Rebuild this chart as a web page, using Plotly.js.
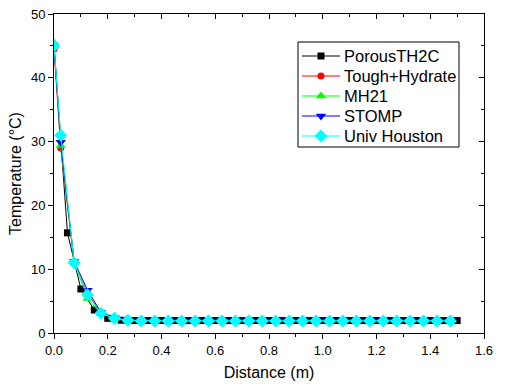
<!DOCTYPE html>
<html>
<head>
<meta charset="utf-8">
<script src="https://cdn.plot.ly/plotly-3.0.1.min.js"></script>
<style>html,body{margin:0;padding:0;background:#fff;}#chart{width:506px;height:392px;}</style>
</head>
<body>
<div id="chart"></div>
<script>
// Data
var xPorous = [0, 0.05, 0.1, 0.15, 0.2, 0.25, 0.3, 0.35, 0.4, 0.45, 0.5, 0.55, 0.6, 0.65, 0.7, 0.75, 0.8, 0.85, 0.9, 0.95, 1.0, 1.05, 1.1, 1.15, 1.2, 1.25, 1.3, 1.35, 1.4, 1.45, 1.5];
var yPorous = [45, 15.7, 6.9, 3.6, 2.3, 2.0, 1.95, 1.95, 1.95, 1.95, 1.95, 1.95, 1.95, 1.95, 1.95, 1.95, 1.95, 1.95, 1.95, 1.95, 1.95, 1.95, 1.95, 1.95, 1.95, 1.95, 1.95, 1.95, 1.95, 1.95, 1.95];
var xOther = [0, 0.025, 0.075, 0.125, 0.175, 0.225, 0.275, 0.325, 0.375, 0.425, 0.475, 0.525, 0.575, 0.625, 0.675, 0.725, 0.775, 0.825, 0.875, 0.925, 0.975, 1.025, 1.075, 1.125, 1.175, 1.225, 1.275, 1.325, 1.375, 1.425, 1.475];
var yTough = [44.5, 29.0, 11.0, 6.2, 3.1, 2.3, 2.0, 2.0, 2.0, 2.0, 2.0, 2.0, 2.0, 2.0, 2.0, 2.0, 2.0, 2.0, 2.0, 2.0, 2.0, 2.0, 2.0, 2.0, 2.0, 2.0, 2.0, 2.0, 2.0, 2.0, 2.0];
var yMH21 = [45.5, 29.4, 11.0, 5.4, 3.0, 2.3, 2.0, 2.0, 2.0, 2.0, 2.0, 2.0, 2.0, 2.0, 2.0, 2.0, 2.0, 2.0, 2.0, 2.0, 2.0, 2.0, 2.0, 2.0, 2.0, 2.0, 2.0, 2.0, 2.0, 2.0, 2.0];
var ySTOMP = [45.0, 29.9, 11.2, 6.7, 3.2, 2.4, 2.1, 2.0, 2.0, 2.0, 2.0, 2.0, 2.0, 2.0, 2.0, 2.0, 2.0, 2.0, 2.0, 2.0, 2.0, 2.0, 2.0, 2.0, 2.0, 2.0, 2.0, 2.0, 2.0, 2.0, 2.0];
var yHouston = [45.0, 31.0, 11.0, 6.0, 3.1, 2.3, 2.0, 1.9, 1.9, 1.9, 1.9, 1.9, 1.9, 1.9, 1.9, 1.9, 1.9, 1.9, 1.9, 1.9, 1.9, 1.9, 1.9, 1.9, 1.9, 1.9, 1.9, 1.9, 1.9, 1.9, 1.9];
var seriesNames = ['PorousTH2C', 'Tough+Hydrate', 'MH21', 'STOMP', 'Univ Houston'];
var seriesColors = ['#000000', '#ff0000', '#00ff00', '#0000ff', '#00ffff'];
var seriesSymbols = ['square', 'circle', 'triangle-up', 'triangle-down', 'diamond'];
var seriesSizes = [7, 7, 9, 9, 10];
var xTicks = [0, 0.2, 0.4, 0.6, 0.8, 1.0, 1.2, 1.4, 1.6];
var xTickText = ['0.0', '0.2', '0.4', '0.6', '0.8', '1.0', '1.2', '1.4', '1.6'];
var yTicks = [0, 10, 20, 30, 40, 50];

var fam = 'Liberation Sans, Arial, sans-serif';
var W = 506, H = 392, ML = 54, MR = 22, MT = 14, MB = 59;
// Legend box geometry in pixel space of the plot area (x3/y3 ranges = pixel coordinates)
var legLeft = 298, legRight = 459, legTop = 42, legBottom = 147;
var legRowY = [56, 76, 96, 116, 136];
var legLineX0 = 302, legLineX1 = 340, legMarkX = 321, legTextX = 342;

var xs = [xPorous, xOther, xOther, xOther, xOther];
var ys = [yPorous, yTough, yMH21, ySTOMP, yHouston];
var data = [];
var annotations = [];
for (var i = 0; i < 5; i++) {
  data.push({x: xs[i], y: ys[i], name: seriesNames[i], type: 'scatter', mode: 'lines+markers',
    line: {color: seriesColors[i], width: 1},
    marker: {color: seriesColors[i], symbol: seriesSymbols[i], size: seriesSizes[i], line: {width: 0}},
    showlegend: false});
}
for (var j = 0; j < 5; j++) {
  data.push({x: [legLineX0, legLineX1], y: [legRowY[j], legRowY[j]], xaxis: 'x3', yaxis: 'y3',
    mode: 'lines', line: {color: seriesColors[j], width: 1}, showlegend: false, hoverinfo: 'skip'});
  data.push({x: [legMarkX], y: [legRowY[j]], xaxis: 'x3', yaxis: 'y3', mode: 'markers',
    marker: {color: seriesColors[j], symbol: seriesSymbols[j], size: seriesSizes[j], line: {width: 0}},
    showlegend: false, hoverinfo: 'skip'});
  annotations.push({xref: 'x3', yref: 'y3', x: legTextX, y: legRowY[j], xanchor: 'left', yanchor: 'middle',
    text: seriesNames[j], showarrow: false, font: {family: fam, size: 16.5, color: '#000'}});
}
// invisible trace to activate mirrored tick axes
data.push({x: [0], y: [0], xaxis: 'x2', yaxis: 'y2', mode: 'markers', marker: {opacity: 0}, showlegend: false, hoverinfo: 'skip'});

var shapes = [{type: 'rect', xref: 'x3', yref: 'y3', x0: legLeft, x1: legRight, y0: legTop, y1: legBottom,
  line: {color: '#000', width: 1}, fillcolor: '#fff', layer: 'below'}];

var layout = {
  width: W, height: H,
  margin: {l: ML, r: MR, t: MT, b: MB},
  paper_bgcolor: '#fff', plot_bgcolor: '#fff',
  font: {family: fam, color: '#000', size: 13},
  showlegend: false,
  shapes: shapes,
  annotations: annotations,
  xaxis: {range: [0, 1.6], tickvals: xTicks, ticktext: xTickText, ticks: 'outside', ticklen: 5,
    tickcolor: '#000', showgrid: false, zeroline: false, showline: true, linecolor: '#000', linewidth: 1,
    minor: {ticks: 'outside', ticklen: 3, dtick: 0.1, tickcolor: '#000', showgrid: false},
    title: {text: 'Distance (m)', font: {family: fam, size: 16, color: '#000'}, standoff: 10},
    tickfont: {family: fam, size: 13, color: '#000'}},
  yaxis: {range: [0, 50], tickvals: yTicks, ticks: 'outside', ticklen: 5,
    tickcolor: '#000', showgrid: false, zeroline: false, showline: true, linecolor: '#000', linewidth: 1,
    minor: {ticks: 'outside', ticklen: 3, dtick: 5, tickcolor: '#000', showgrid: false},
    title: {text: 'Temperature (°C)', font: {family: fam, size: 16, color: '#000'}, standoff: 5},
    tickfont: {family: fam, size: 13, color: '#000'}},
  xaxis2: {overlaying: 'x', side: 'top', range: [0, 1.6], tickvals: xTicks, ticks: 'inside', ticklen: 5,
    tickcolor: '#000', showticklabels: false, showgrid: false, zeroline: false, showline: true, linecolor: '#000',
    minor: {ticks: 'inside', ticklen: 3, dtick: 0.1, tickcolor: '#000', showgrid: false}},
  yaxis2: {overlaying: 'y', side: 'right', range: [0, 50], tickvals: yTicks, ticks: 'inside', ticklen: 5,
    tickcolor: '#000', showticklabels: false, showgrid: false, zeroline: false, showline: true, linecolor: '#000',
    minor: {ticks: 'inside', ticklen: 3, dtick: 5, tickcolor: '#000', showgrid: false}},
  xaxis3: {overlaying: 'x', range: [ML, W - MR], visible: false, fixedrange: true},
  yaxis3: {overlaying: 'y', range: [H - MB, MT], visible: false, fixedrange: true}
};
Plotly.newPlot('chart', data, layout, {staticPlot: true});
</script>
</body>
</html>
